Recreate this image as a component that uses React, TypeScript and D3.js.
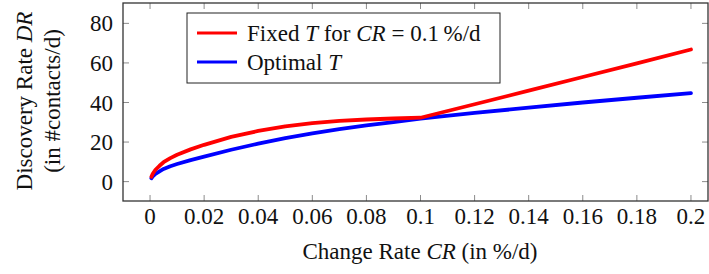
import { useEffect, useRef } from 'react';
import * as d3 from 'd3';

// change rate CR (%/d)
const changeRates = [0.0005, 0.001, 0.002, 0.0035, 0.005, 0.0075, 0.01, 0.015, 0.02, 0.03, 0.04, 0.05, 0.06, 0.07, 0.08, 0.09, 0.1, 0.12, 0.14, 0.16, 0.18, 0.2];
// discovery rate, fixed T for CR = 0.1 %/d
const fixedT = [2.5, 4.0, 6.0, 8.0, 9.8, 11.9, 13.6, 16.3, 18.6, 22.6, 25.6, 27.9, 29.6, 30.7, 31.4, 31.9, 32.3, 39.1, 46.0, 52.9, 59.8, 66.8];
// discovery rate, optimal T
const optimalT = [1.7, 2.6, 3.9, 5.2, 6.4, 7.8, 8.9, 10.9, 12.6, 16.1, 19.2, 22.0, 24.4, 26.5, 28.4, 30.1, 31.8, 34.7, 37.4, 40.0, 42.4, 44.7];

const xTicks = [0, 0.02, 0.04, 0.06, 0.08, 0.1, 0.12, 0.14, 0.16, 0.18, 0.2];
const yTicks = [0, 20, 40, 60, 80];

const font = '"Liberation Serif", "DejaVu Serif", serif';
const fontSize = 23;

export default function App() {
  const ref = useRef<SVGSVGElement | null>(null);

  useEffect(() => {
    if (!ref.current) return;
    const svg = d3.select(ref.current);
    svg.selectAll('*').remove();

    const width = 709;
    const height = 274;
    const margin = { top: 3, right: 1, bottom: 73, left: 123 };
    const innerWidth = width - margin.left - margin.right;
    const innerHeight = height - margin.top - margin.bottom;

    const x = d3.scaleLinear().domain([-0.01, 0.2063]).range([0, innerWidth]);
    const y = d3.scaleLinear().domain([-9.8, 90.3]).range([innerHeight, 0]);

    const g = svg.append('g').attr('transform', `translate(${margin.left},${margin.top})`);

    // ticks (inside, all four sides)
    const tickColor = '#8c8c8c';
    const tickLen = 6;
    xTicks.forEach(t => {
      g.append('line').attr('x1', x(t)).attr('x2', x(t)).attr('y1', innerHeight).attr('y2', innerHeight - tickLen)
        .attr('stroke', tickColor).attr('stroke-width', 1);
      g.append('line').attr('x1', x(t)).attr('x2', x(t)).attr('y1', 0).attr('y2', tickLen)
        .attr('stroke', tickColor).attr('stroke-width', 1);
    });
    yTicks.forEach(t => {
      g.append('line').attr('x1', 0).attr('x2', tickLen).attr('y1', y(t)).attr('y2', y(t))
        .attr('stroke', tickColor).attr('stroke-width', 1);
      g.append('line').attr('x1', innerWidth).attr('x2', innerWidth - tickLen).attr('y1', y(t)).attr('y2', y(t))
        .attr('stroke', tickColor).attr('stroke-width', 1);
    });

    // tick labels
    g.selectAll('.xlab').data(xTicks).enter().append('text')
      .attr('x', d => x(d)).attr('y', innerHeight + 23)
      .attr('text-anchor', 'middle')
      .attr('font-family', font).attr('font-size', fontSize).attr('fill', '#111')
      .text(d => d3.format('~g')(d));

    g.selectAll('.ylab').data(yTicks).enter().append('text')
      .attr('x', -10).attr('y', d => y(d)).attr('dy', '0.35em')
      .attr('text-anchor', 'end')
      .attr('font-family', font).attr('font-size', fontSize).attr('fill', '#111')
      .text(d => String(d));

    // curves
    const line = d3.line<[number, number]>()
      .x(d => x(d[0])).y(d => y(d[1]));

    const series = [
      { values: optimalT, color: '#0000ff' },
      { values: fixedT, color: '#ff0000' },
    ];
    series.forEach(s => {
      const pts = changeRates.map((c, i) => [c, s.values[i]] as [number, number]);
      g.append('path').datum(pts).attr('d', line)
        .attr('fill', 'none').attr('stroke', s.color).attr('stroke-width', 3.8)
        .attr('stroke-linecap', 'round').attr('stroke-linejoin', 'round');
    });

    // axis frame
    g.append('rect').attr('x', 0).attr('y', 0).attr('width', innerWidth).attr('height', innerHeight)
      .attr('fill', 'none').attr('stroke', '#333').attr('stroke-width', 1.3);

    // legend
    const lg = svg.append('g').attr('transform', 'translate(187,13)');
    lg.append('rect').attr('width', 313).attr('height', 70)
      .attr('fill', 'white').attr('stroke', '#222').attr('stroke-width', 1);
    const legendItems = [
      { color: '#ff0000', parts: [['Fixed ', false], ['T', true], [' for ', false], ['CR', true], [' = 0.1\u2009%/d', false]] },
      { color: '#0000ff', parts: [['Optimal ', false], ['T', true]] },
    ];
    legendItems.forEach((item, i) => {
      const cy = 20 + i * 29;
      lg.append('line').attr('x1', 10).attr('x2', 50).attr('y1', cy).attr('y2', cy)
        .attr('stroke', item.color).attr('stroke-width', 3);
      const t = lg.append('text').attr('x', 60).attr('y', cy).attr('dy', '0.33em')
        .attr('font-family', font).attr('font-size', fontSize).attr('fill', '#111');
      item.parts.forEach(([txt, it]) => {
        t.append('tspan').attr('font-style', it ? 'italic' : 'normal').text(txt as string);
      });
    });

    // x axis label
    const xl = svg.append('text').attr('x', 420).attr('y', 259)
      .attr('text-anchor', 'middle').attr('font-family', font).attr('font-size', fontSize).attr('fill', '#111');
    xl.append('tspan').text('Change Rate ');
    xl.append('tspan').attr('font-style', 'italic').text('CR');
    xl.append('tspan').text(' (in %/d)');

    // y axis label
    const yl = svg.append('g').attr('transform', 'translate(0,101) rotate(-90)');
    const yl1 = yl.append('text').attr('x', 0).attr('y', 32)
      .attr('text-anchor', 'middle').attr('font-family', font).attr('font-size', fontSize).attr('fill', '#111');
    yl1.append('tspan').text('Discovery Rate ');
    yl1.append('tspan').attr('font-style', 'italic').text('DR');
    yl.append('text').attr('x', 0).attr('y', 60)
      .attr('text-anchor', 'middle').attr('font-family', font).attr('font-size', fontSize).attr('fill', '#111')
      .text('(in #contacts/d)');
  }, []);

  return (
    <svg
      ref={ref}
      width={709}
      height={274}
      style={{ position: 'absolute', left: 0, top: 0, background: 'white' }}
    />
  );
}
